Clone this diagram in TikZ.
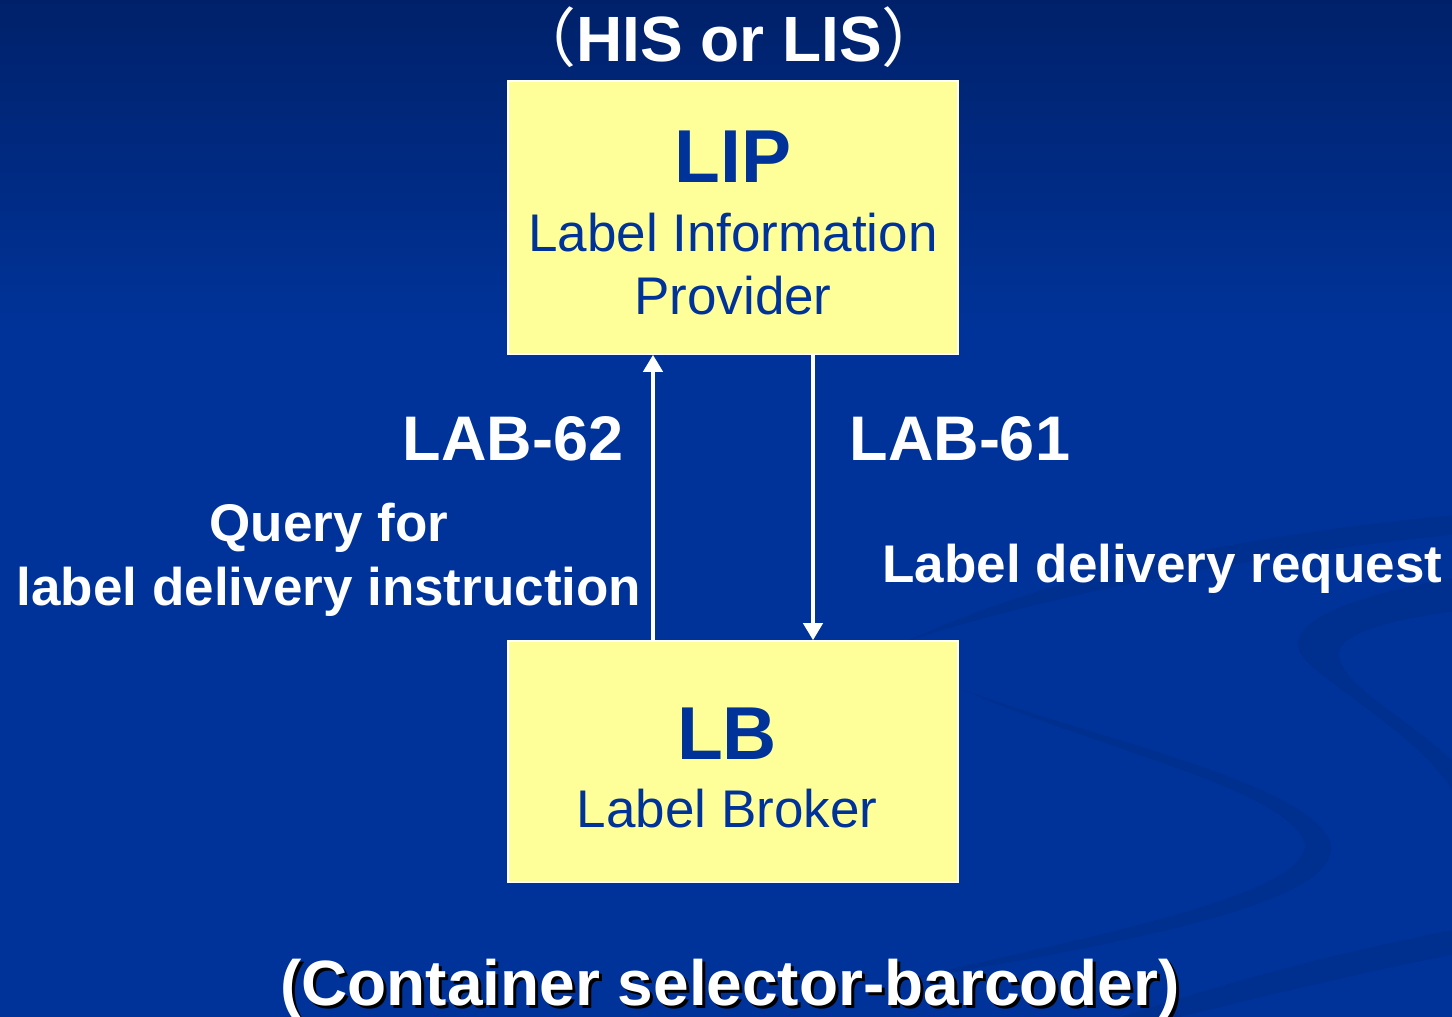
\documentclass[tikz,border=0pt]{standalone}
\usepackage{fontspec}
\setmainfont{Liberation Sans}
\newfontfamily\cjkfont{Noto Sans CJK SC}
\usetikzlibrary{arrows.meta}

\definecolor{slidebg}{HTML}{003399}
\definecolor{slidetop}{HTML}{00216A}
\definecolor{swirl}{HTML}{00308F}
\definecolor{boxfill}{HTML}{FFFF99}
\definecolor{boxtext}{HTML}{003399}

\newcommand{\fsz}[1]{\fontsize{#1}{#1}\selectfont}

\tikzset{
  actor/.style={draw=white, line width=1.6pt, fill=boxfill, inner sep=0pt,
    minimum width=450pt},
  abbrev/.style={anchor=base, text=boxtext, font=\fsz{75}\bfseries},
  fullname/.style={anchor=base, text=boxtext, font=\fsz{53}},
  txlabel/.style={anchor=base, text=white, font=\fsz{63}\bfseries},
  txdesc/.style={anchor=base, text=white, font=\fsz{53}\bfseries},
  caption/.style={anchor=base, text=white, font=\fsz{64}\bfseries},
  flow/.style={draw=white, line width=4pt,
    -{Triangle[width=19pt,length=17pt]}}
}

\begin{document}
\begin{tikzpicture}[x=1pt,y=-1pt]
\useasboundingbox (0,0) rectangle (1452,1017);

% background: dark band at the top fading into the slide blue
\fill[slidebg] (0,0) rectangle (1452,1017);
\shade[top color=slidetop, bottom color=slidebg] (0,0) rectangle (1452,330);

% faint swirls in the lower right corner
\fill[swirl] (905,642) .. controls (1080,560) and (1300,530) .. (1452,515)
  -- (1452,535) .. controls (1300,550) and (1080,585) .. (905,642) -- cycle;
\fill[swirl] (958,688) .. controls (1100,740) and (1300,780) .. (1330,840)
  .. controls (1350,900) and (1150,940) .. (880,985)
  .. controls (1120,930) and (1300,895) .. (1305,845)
  .. controls (1290,790) and (1100,750) .. (958,688) -- cycle;
\fill[swirl] (1452,578) .. controls (1330,600) and (1270,630) .. (1310,665)
  .. controls (1350,700) and (1420,740) .. (1452,790)
  -- (1452,760) .. controls (1410,720) and (1350,690) .. (1340,660)
  .. controls (1330,635) and (1390,620) .. (1452,612) -- cycle;
\fill[swirl] (1120,1017) .. controls (1250,975) and (1350,950) .. (1452,930)
  -- (1452,955) .. controls (1350,975) and (1250,1000) .. (1180,1017) -- cycle;

% the two actors
\node[actor, minimum height=273pt] (lip) at (733,217.5) {};
\node[actor, minimum height=241pt] (lb) at (733,761.5) {};

\node[caption] (sys) at (729,61) {{\cjkfont\mdseries （}HIS or LIS{\cjkfont\mdseries ）}};
\node[abbrev] (lipab) at (733,182) {LIP};
\node[fullname] (lipn1) at (733,251) {Label Information};
\node[fullname] (lipn2) at (733,314) {Provider};
\node[abbrev] (lbab) at (727,759) {LB};
\node[fullname] (lbn) at (727,827) {Label Broker};

% transactions between the actors
\coordinate (q62) at (653,0);
\coordinate (q61) at (813,0);
\draw[flow] (lb.north -| q62) -- (lip.south -| q62);
\draw[flow] (lip.south -| q61) -- (lb.north -| q61);

\node[txlabel, anchor=base east] (t62) at (627,460) {LAB-62};
\node[txlabel, anchor=base west] (t61) at (846,460) {LAB-61};
\node[txdesc] (d62a) at (329,541) {Query for};
\node[txdesc] (d62b) at (329,605) {label delivery instruction};
\node[txdesc, anchor=base west] (d61) at (879,582) {Label delivery request};

% bottom caption with its drop shadow
\node[caption, text=black] (devsh) at (733,1008) {(Container selector-barcoder)};
\node[caption] (dev) at (730,1005) {(Container selector-barcoder)};
\end{tikzpicture}
\end{document}
